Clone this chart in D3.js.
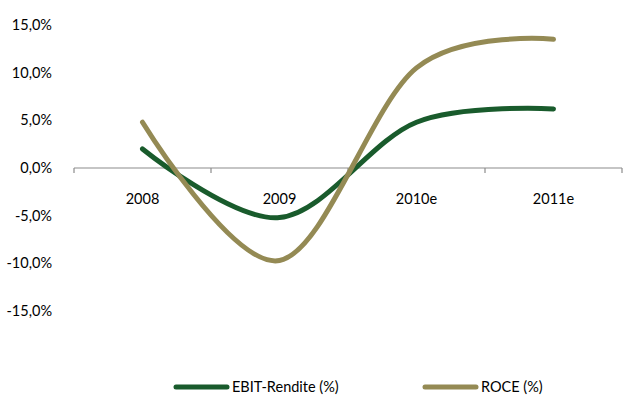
<!DOCTYPE html>
<html><head><meta charset="utf-8">
<script src="https://cdn.jsdelivr.net/npm/d3@7"></script>
<style>body{margin:0;background:#fff}svg{display:block}text{font-family:Lato,"Open Sans",sans-serif;font-size:14.5px;fill:#000}</style>
</head><body><svg id="c" width="632" height="398"></svg>
<script>
const categories = ["2008","2009","2010e","2011e"];
const ebit = [2.0, -5.2, 4.8, 6.2];
const roce = [4.8, -9.7, 10.5, 13.5];
const yTicks = [15, 10, 5, 0, -5, -10, -15];
const seriesNames = ["EBIT-Rendite (%)", "ROCE (%)"];
const colors = ["#195B2C", "#948A54"];

const svg = d3.select("#c");
const x = d3.scaleBand().domain(categories).range([74, 622]);
const y = d3.scaleLinear().domain([-15, 15]).range([311, 25]);
const fmt = v => v.toFixed(1).replace(".", ",") + "%";

// y labels
svg.append("g").selectAll("text").data(yTicks).join("text")
  .attr("x", 52).attr("y", d => y(d)).attr("dy", "0.35em")
  .attr("text-anchor", "end").text(fmt);

// x axis
const xa = svg.append("g").attr("transform", `translate(0,${y(0)})`);
xa.append("line").attr("x1", 74).attr("x2", 622).attr("stroke", "#8c8c8c").attr("stroke-width", 1.2);
const edges = categories.map(c => x(c)).concat([x.range()[1]]);
xa.selectAll("line.t").data(edges).join("line").attr("class", "t")
  .attr("x1", d => d).attr("x2", d => d).attr("y1", 0).attr("y2", 5)
  .attr("stroke", "#8c8c8c").attr("stroke-width", 1.2);
xa.selectAll("text").data(categories).join("text")
  .attr("x", d => x(d) + x.bandwidth() / 2).attr("y", 36)
  .attr("text-anchor", "middle").text(d => d);

const line = d3.line().x((d, i) => x(categories[i]) + x.bandwidth() / 2).y(d => y(d))
  .curve(d3.curveCatmullRom.alpha(0));
[ebit, roce].forEach((s, k) => {
  svg.append("path").attr("d", line(s)).attr("fill", "none")
    .attr("stroke", colors[k]).attr("stroke-width", 5).attr("stroke-linecap", "round");
});

// legend
const lx = [174, 423];
seriesNames.forEach((n, k) => {
  svg.append("line").attr("x1", lx[k] + 2).attr("x2", lx[k] + 53).attr("y1", 387).attr("y2", 387)
    .attr("stroke", colors[k]).attr("stroke-width", 5).attr("stroke-linecap", "round");
  svg.append("text").attr("x", lx[k] + 58).attr("y", 387).attr("dy", "0.35em").text(n);
});
</script></body></html>
